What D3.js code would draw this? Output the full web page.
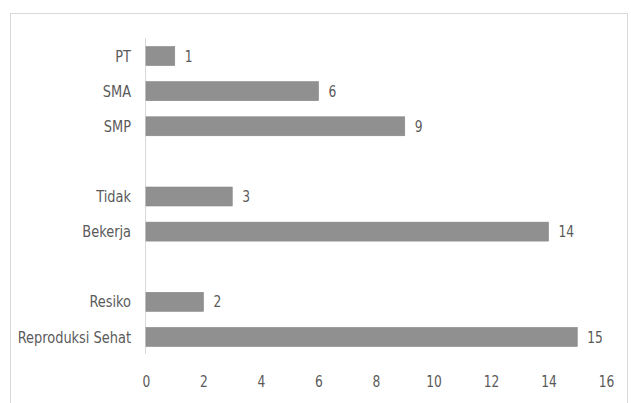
<!DOCTYPE html>
<html>
<head>
<meta charset="utf-8">
<script src="https://cdn.jsdelivr.net/npm/d3@7"></script>
<style>
  html, body { margin: 0; padding: 0; background: #ffffff; }
  svg text { font-family: "DejaVu Sans Condensed", "DejaVu Sans", sans-serif; fill: #5a5a5a; }
</style>
</head>
<body>
<svg id="chart" width="631" height="403"></svg>
<script>
// Rows from top to bottom; empty strings leave a blank row between groups
const categories = ["PT", "SMA", "SMP", "", "Tidak", "Bekerja", "", "Resiko", "Reproduksi Sehat"];
const values = [1, 6, 9, null, 3, 14, null, 2, 15];
const xTicks = [0, 2, 4, 6, 8, 10, 12, 14, 16];

const svg = d3.select("#chart");

// chart area frame
svg.append("rect")
  .attr("x", 10.5).attr("y", 13.5)
  .attr("width", 617).attr("height", 400)
  .attr("fill", "#fff")
  .attr("stroke", "#d9d9d9").attr("stroke-width", 1);

const slots = categories.map((c, i) => "row" + i);
const x = d3.scaleLinear().domain([0, 16]).range([146, 606]);
const y = d3.scaleBand().domain(slots).range([38.5, 354.5]).paddingInner(0.46).paddingOuter(0.23);

// vertical category axis line
svg.append("line")
  .attr("x1", x(0) - 0.5).attr("x2", x(0) - 0.5)
  .attr("y1", 38).attr("y2", 354)
  .attr("stroke", "#d9d9d9").attr("stroke-width", 1);

const rows = categories.map((c, i) => ({ label: c, value: values[i], key: slots[i] }));
const bars = rows.filter(d => d.value !== null);

svg.append("g").selectAll("rect")
  .data(bars).join("rect")
  .attr("x", x(0))
  .attr("y", d => y(d.key))
  .attr("width", d => x(d.value) - x(0))
  .attr("height", y.bandwidth())
  .attr("fill", "#909090")
  .attr("stroke", "#858585").attr("stroke-width", 0.6);

// squeeze glyphs horizontally for a narrow look
function narrow(sel, k) {
  sel.each(function () {
    const len = this.getComputedTextLength();
    d3.select(this).attr("textLength", len * k).attr("lengthAdjust", "spacingAndGlyphs");
  });
}

// category labels
svg.append("g").selectAll("text")
  .data(bars).join("text")
  .attr("x", 131)
  .attr("y", d => y(d.key) + y.bandwidth() / 2)
  .attr("dy", "0.35em")
  .attr("text-anchor", "end")
  .attr("font-size", 16)
  .text(d => d.label)
  .call(narrow, 0.9);

// value labels
svg.append("g").selectAll("text")
  .data(bars).join("text")
  .attr("x", d => x(d.value) + 10)
  .attr("y", d => y(d.key) + y.bandwidth() / 2)
  .attr("dy", "0.35em")
  .attr("font-size", 16)
  .text(d => d.value)
  .call(narrow, 0.85);

// value axis
const xAxis = d3.axisBottom(x).tickValues(xTicks).tickSize(0).tickPadding(0);
const gx = svg.append("g").attr("transform", "translate(0,381)").call(xAxis);
gx.select(".domain").remove();
gx.selectAll("text")
  .attr("font-size", 16)
  .attr("dy", "0.35em")
  .style("font-family", "\"DejaVu Sans Condensed\", \"DejaVu Sans\", sans-serif")
  .attr("fill", "#5a5a5a")
  .call(narrow, 0.85);
</script>
</body>
</html>
